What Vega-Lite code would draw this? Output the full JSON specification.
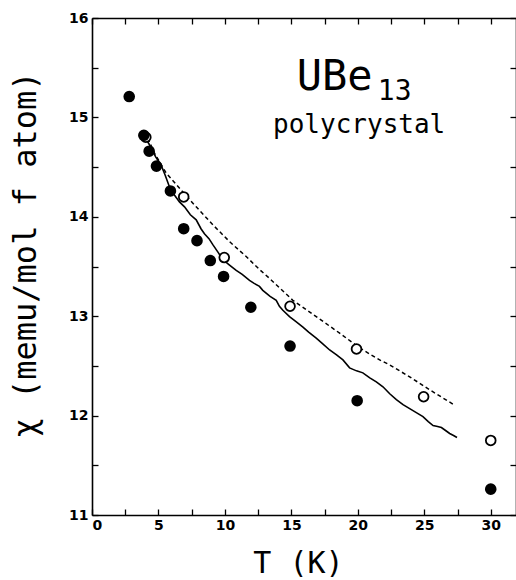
{
  "$schema": "https://vega.github.io/schema/vega-lite/v6.json",
  "width": 424,
  "height": 497,
  "autosize": "none",
  "padding": {"left": 92, "top": 18, "right": 0, "bottom": 65},
  "background": "white",
  "config": {"view": {"stroke": null}, "axis": {"grid": false}},
  "datasets": {
    "pts": [
      {"series": "filled", "T": 2.8, "chi": 15.21},
      {"series": "filled", "T": 3.9, "chi": 14.82},
      {"series": "filled", "T": 4.3, "chi": 14.66},
      {"series": "filled", "T": 4.85, "chi": 14.51},
      {"series": "filled", "T": 5.9, "chi": 14.26},
      {"series": "filled", "T": 6.9, "chi": 13.88},
      {"series": "filled", "T": 7.9, "chi": 13.76},
      {"series": "filled", "T": 8.9, "chi": 13.56},
      {"series": "filled", "T": 9.9, "chi": 13.4},
      {"series": "filled", "T": 11.95, "chi": 13.09},
      {"series": "filled", "T": 14.9, "chi": 12.7},
      {"series": "filled", "T": 19.95, "chi": 12.15},
      {"series": "filled", "T": 30.0, "chi": 11.26},
      {"series": "open", "T": 4.05, "chi": 14.8},
      {"series": "open", "T": 6.9, "chi": 14.2},
      {"series": "open", "T": 9.95, "chi": 13.59},
      {"series": "open", "T": 14.9, "chi": 13.1},
      {"series": "open", "T": 19.9, "chi": 12.67},
      {"series": "open", "T": 24.95, "chi": 12.19},
      {"series": "open", "T": 30.0, "chi": 11.75},
      {"series": "solid", "T": 3.95, "chi": 14.81},
      {"series": "solid", "T": 4.3, "chi": 14.73},
      {"series": "solid", "T": 4.8, "chi": 14.6},
      {"series": "solid", "T": 5.2, "chi": 14.52},
      {"series": "solid", "T": 5.5, "chi": 14.42},
      {"series": "solid", "T": 5.83, "chi": 14.3},
      {"series": "solid", "T": 6.2, "chi": 14.22},
      {"series": "solid", "T": 6.58, "chi": 14.15},
      {"series": "solid", "T": 6.96, "chi": 14.1},
      {"series": "solid", "T": 7.4, "chi": 14.02},
      {"series": "solid", "T": 7.84, "chi": 13.97},
      {"series": "solid", "T": 8.2, "chi": 13.88},
      {"series": "solid", "T": 8.46, "chi": 13.83},
      {"series": "solid", "T": 8.8, "chi": 13.78},
      {"series": "solid", "T": 9.09, "chi": 13.72},
      {"series": "solid", "T": 9.5, "chi": 13.64},
      {"series": "solid", "T": 9.84, "chi": 13.57},
      {"series": "solid", "T": 10.3, "chi": 13.52},
      {"series": "solid", "T": 10.85, "chi": 13.46},
      {"series": "solid", "T": 11.3, "chi": 13.42},
      {"series": "solid", "T": 11.85, "chi": 13.36},
      {"series": "solid", "T": 12.2, "chi": 13.33},
      {"series": "solid", "T": 12.6, "chi": 13.3},
      {"series": "solid", "T": 12.85, "chi": 13.26},
      {"series": "solid", "T": 13.4, "chi": 13.2},
      {"series": "solid", "T": 13.86, "chi": 13.16},
      {"series": "solid", "T": 14.1, "chi": 13.1},
      {"series": "solid", "T": 14.36, "chi": 13.06},
      {"series": "solid", "T": 14.86, "chi": 12.995},
      {"series": "solid", "T": 15.3, "chi": 12.95},
      {"series": "solid", "T": 15.87, "chi": 12.89},
      {"series": "solid", "T": 16.3, "chi": 12.84},
      {"series": "solid", "T": 16.87, "chi": 12.78},
      {"series": "solid", "T": 17.3, "chi": 12.73},
      {"series": "solid", "T": 17.88, "chi": 12.66},
      {"series": "solid", "T": 18.4, "chi": 12.61},
      {"series": "solid", "T": 18.88, "chi": 12.56},
      {"series": "solid", "T": 19.38, "chi": 12.48},
      {"series": "solid", "T": 19.9, "chi": 12.45},
      {"series": "solid", "T": 20.38, "chi": 12.43},
      {"series": "solid", "T": 20.9, "chi": 12.38},
      {"series": "solid", "T": 21.39, "chi": 12.34},
      {"series": "solid", "T": 21.89, "chi": 12.29},
      {"series": "solid", "T": 22.4, "chi": 12.22},
      {"series": "solid", "T": 22.9, "chi": 12.16},
      {"series": "solid", "T": 23.4, "chi": 12.11},
      {"series": "solid", "T": 23.9, "chi": 12.07},
      {"series": "solid", "T": 24.4, "chi": 12.03},
      {"series": "solid", "T": 24.9, "chi": 11.99},
      {"series": "solid", "T": 25.3, "chi": 11.94},
      {"series": "solid", "T": 25.66, "chi": 11.9},
      {"series": "solid", "T": 26.0, "chi": 11.89},
      {"series": "solid", "T": 26.29, "chi": 11.88},
      {"series": "solid", "T": 26.6, "chi": 11.85},
      {"series": "solid", "T": 26.91, "chi": 11.82},
      {"series": "solid", "T": 27.2, "chi": 11.8},
      {"series": "solid", "T": 27.46, "chi": 11.78},
      {"series": "dashed", "T": 4.2, "chi": 14.79},
      {"series": "dashed", "T": 4.7, "chi": 14.64},
      {"series": "dashed", "T": 5.58, "chi": 14.44},
      {"series": "dashed", "T": 6.83, "chi": 14.25},
      {"series": "dashed", "T": 7.84, "chi": 14.1},
      {"series": "dashed", "T": 9.09, "chi": 13.92},
      {"series": "dashed", "T": 10.35, "chi": 13.75},
      {"series": "dashed", "T": 11.6, "chi": 13.6},
      {"series": "dashed", "T": 12.6, "chi": 13.47},
      {"series": "dashed", "T": 13.36, "chi": 13.38},
      {"series": "dashed", "T": 15.11, "chi": 13.16},
      {"series": "dashed", "T": 16.87, "chi": 12.995},
      {"series": "dashed", "T": 18.63, "chi": 12.83},
      {"series": "dashed", "T": 20.14, "chi": 12.68},
      {"series": "dashed", "T": 21.64, "chi": 12.56},
      {"series": "dashed", "T": 22.4, "chi": 12.51},
      {"series": "dashed", "T": 23.9, "chi": 12.39},
      {"series": "dashed", "T": 25.4, "chi": 12.26},
      {"series": "dashed", "T": 27.34, "chi": 12.1}
    ],
    "labels": [
      {"text": "UBe", "T": 15.4, "chi": 15.276},
      {"text": "13", "T": 21.5, "chi": 15.175},
      {"text": "polycrystal", "T": 20.1, "chi": 14.846}
    ]
  },
  "layer": [
    {
      "data": {"name": "pts"},
      "transform": [{"filter": "datum.series === 'solid'"}],
      "mark": {"type": "line", "color": "black", "strokeWidth": 1.6},
      "encoding": {
        "x": {"field": "T", "type": "quantitative",
          "scale": {"domain": [0, 31.9], "nice": false, "zero": false},
          "axis": {"orient": "bottom", "values": [0, 2.5, 5, 7.5, 10, 12.5, 15, 17.5, 20, 22.5, 25, 27.5, 30],
            "labelExpr": "datum.value % 5 === 0 ? '' + datum.value : ''",
            "tickSize": -6, "tickWidth": 1.3, "tickColor": "black",
            "domainColor": "black", "domainWidth": 1.6,
            "labelFont": "DejaVu Sans", "labelFontWeight": "bold", "labelFontSize": 14, "labelColor": "black",
            "labelPadding": 9,
            "labelAlign": {"condition": {"test": "datum.value === 0", "value": "left"}, "value": "center"},
            "title": "T (K)", "titleFont": "DejaVu Sans Mono", "titleFontSize": 30, "titleFontWeight": "normal",
            "titleColor": "black", "titleX": 206, "titleY": 57, "titleBaseline": "alphabetic", "titleAlign": "center"}},
        "y": {"field": "chi", "type": "quantitative",
          "scale": {"domain": [11, 16], "nice": false, "zero": false},
          "axis": {"orient": "left", "values": [11, 11.5, 12, 12.5, 13, 13.5, 14, 14.5, 15, 15.5, 16],
            "labelExpr": "datum.value % 1 === 0 ? '' + datum.value : ''",
            "tickSize": -6, "tickWidth": 1.3, "tickColor": "black",
            "domainColor": "black", "domainWidth": 1.6,
            "labelFont": "DejaVu Sans", "labelFontWeight": "bold", "labelFontSize": 14, "labelColor": "black",
            "labelPadding": 10,
            "title": "χ (memu/mol f atom)", "titleFont": "DejaVu Sans Mono", "titleFontSize": 32, "titleFontWeight": "normal",
            "titleColor": "black", "titleX": -57, "titleY": 236, "titleAngle": 270, "titleBaseline": "alphabetic", "titleAlign": "center"}}
      }
    },
    {
      "data": {"name": "pts"},
      "transform": [{"filter": "datum.series === 'dashed'"}],
      "mark": {"type": "line", "color": "black", "strokeWidth": 1.5, "strokeDash": [4, 3]},
      "encoding": {
        "x": {"field": "T", "type": "quantitative",
          "axis": {"orient": "top", "values": [0, 2.5, 5, 7.5, 10, 12.5, 15, 17.5, 20, 22.5, 25, 27.5, 30],
            "labels": false, "title": null, "tickSize": -6, "tickWidth": 1.3, "tickColor": "black",
            "domainColor": "black", "domainWidth": 1.6}},
        "y": {"field": "chi", "type": "quantitative",
          "axis": {"orient": "right", "values": [11, 11.5, 12, 12.5, 13, 13.5, 14, 14.5, 15, 15.5, 16],
            "labels": false, "title": null, "tickSize": -6, "tickWidth": 1.3, "tickColor": "black",
            "domainColor": "black", "domainWidth": 1.6}}
      }
    },
    {
      "data": {"name": "pts"},
      "transform": [{"filter": "datum.series === 'open'"}],
      "mark": {"type": "point", "shape": "circle", "filled": true, "fill": "white", "stroke": "black", "strokeWidth": 1.8, "size": 95, "opacity": 1},
      "encoding": {
        "x": {"field": "T", "type": "quantitative", "axis": null},
        "y": {"field": "chi", "type": "quantitative", "axis": null}
      }
    },
    {
      "data": {"name": "pts"},
      "transform": [{"filter": "datum.series === 'filled'"}],
      "mark": {"type": "point", "shape": "circle", "filled": true, "color": "black", "size": 135, "opacity": 1},
      "encoding": {
        "x": {"field": "T", "type": "quantitative", "axis": null},
        "y": {"field": "chi", "type": "quantitative", "axis": null}
      }
    },
    {
      "data": {"name": "labels"},
      "transform": [{"filter": "datum.text === 'UBe'"}],
      "mark": {"type": "text", "font": "DejaVu Sans Mono", "fontSize": 42, "align": "left", "baseline": "alphabetic", "color": "black"},
      "encoding": {
        "x": {"field": "T", "type": "quantitative", "axis": null},
        "y": {"field": "chi", "type": "quantitative", "axis": null},
        "text": {"field": "text"}
      }
    },
    {
      "data": {"name": "labels"},
      "transform": [{"filter": "datum.text === '13'"}],
      "mark": {"type": "text", "font": "DejaVu Sans Mono", "fontSize": 28, "align": "left", "baseline": "alphabetic", "color": "black"},
      "encoding": {
        "x": {"field": "T", "type": "quantitative", "axis": null},
        "y": {"field": "chi", "type": "quantitative", "axis": null},
        "text": {"field": "text"}
      }
    },
    {
      "data": {"name": "labels"},
      "transform": [{"filter": "datum.text === 'polycrystal'"}],
      "mark": {"type": "text", "font": "DejaVu Sans Mono", "fontSize": 26, "align": "center", "baseline": "alphabetic", "color": "black"},
      "encoding": {
        "x": {"field": "T", "type": "quantitative", "axis": null},
        "y": {"field": "chi", "type": "quantitative", "axis": null},
        "text": {"field": "text"}
      }
    }
  ],
  "resolve": {"axis": {"x": "independent", "y": "independent"}}
}
